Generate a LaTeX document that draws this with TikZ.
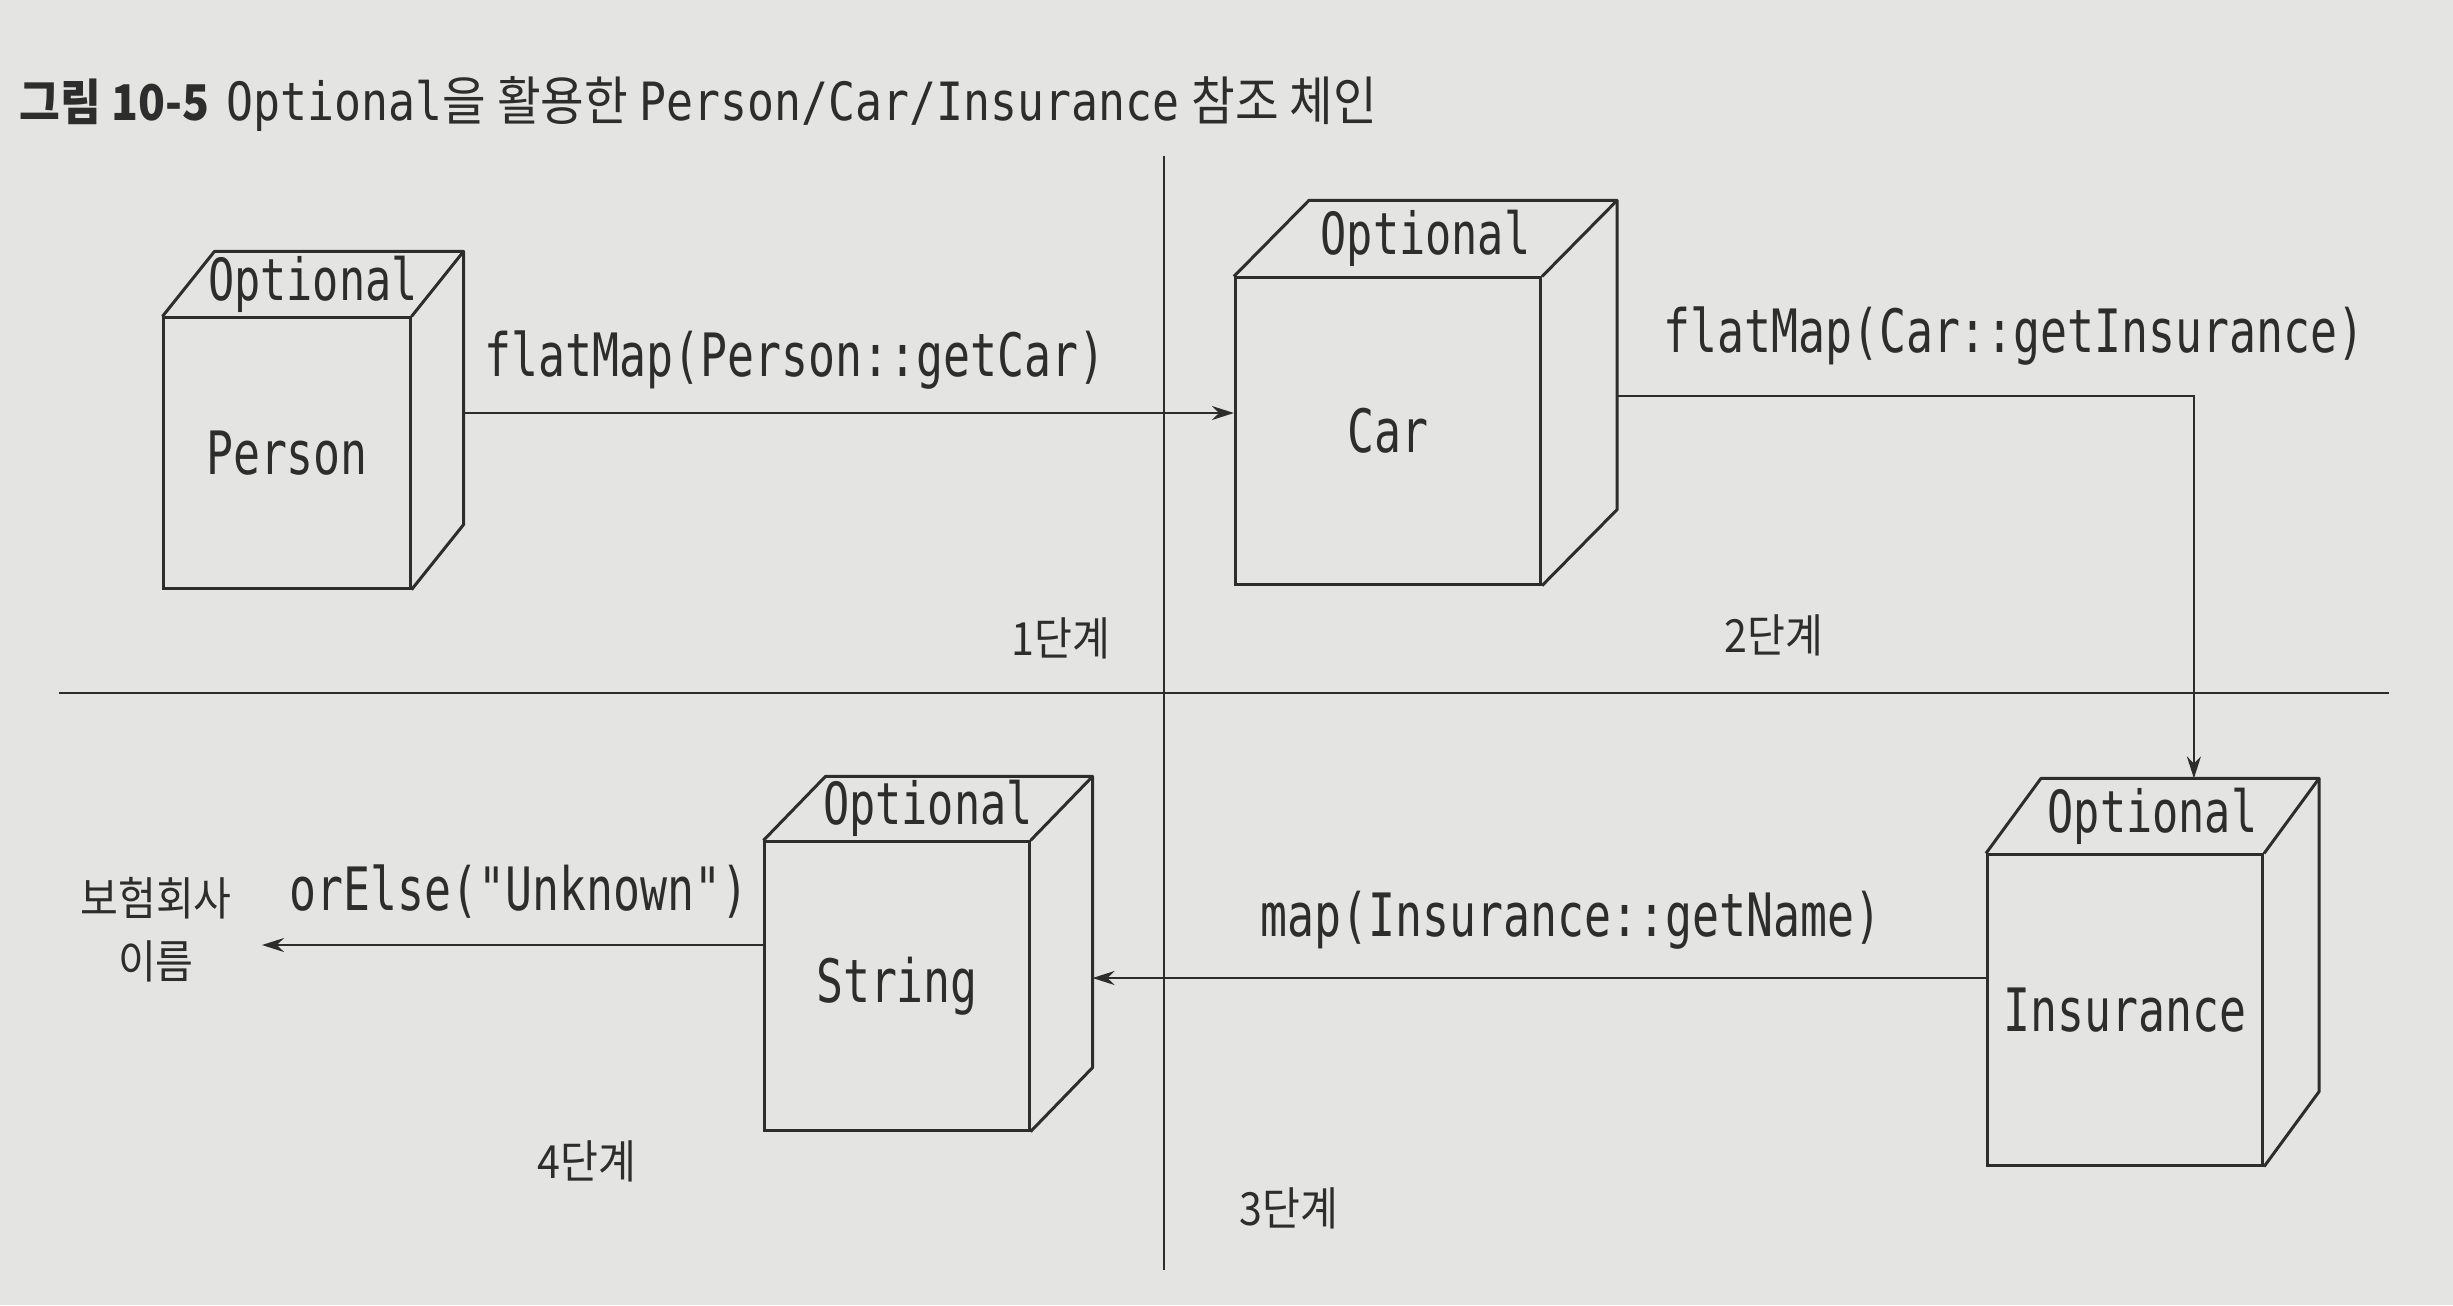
\documentclass[tikz,border=0pt]{standalone}
\usepackage{fontspec}
\usetikzlibrary{arrows.meta,calc}
\newfontfamily\codefont[FakeStretch=0.75]{DejaVu Sans Mono}
\newfontfamily\titlecode[FakeStretch=0.85]{DejaVu Sans Mono}
\newfontfamily\krfont[FakeStretch=0.9]{Noto Sans CJK KR}
\definecolor{paper}{RGB}{228,228,226}
\definecolor{ink}{RGB}{45,45,45}
\newcommand\drawcube[3]{%
  \coordinate (#1-btl) at ($(#1.north west)+(#2,#3)$);
  \coordinate (#1-btr) at ($(#1.north east)+(#2,#3)$);
  \coordinate (#1-bbr) at ($(#1.south east)+(#2,#3)$);
  \draw[edge] (#1.north west) -- (#1-btl) -- (#1-btr) -- (#1.north east);
  \draw[edge] (#1-btr) -- (#1-bbr) -- (#1.south east);
  \node[optlabel] (#1-opt) at ($(#1.north)+(#2/2,#3/2)$) {Optional};
}
\begin{document}
\begin{tikzpicture}[x=0.01cm,y=-0.01cm,
  edge/.style={draw=ink, line width=0.85pt, line join=round},
  cubeface/.style={draw=ink, line width=0.85pt, inner sep=0pt, text=ink,
    font=\codefont\fontsize{17}{20}\selectfont},
  optlabel/.style={text=ink, inner sep=0pt, font=\codefont\fontsize{16.5}{20}\selectfont},
  codelabel/.style={text=ink, inner sep=0pt, font=\codefont\fontsize{17}{20}\selectfont},
  steplabel/.style={text=ink, inner sep=0pt, font=\krfont\fontsize{13}{16}\selectfont},
  divider/.style={draw=ink, line width=0.7pt},
  conn/.style={draw=ink, line width=0.6pt, -{Stealth[length=0.22cm,width=0.14cm]}}]
\fill[paper] (0,0) rectangle (2453,1305);
\useasboundingbox (0,0) rectangle (2453,1305);

% title
\node[anchor=west, text=ink, inner sep=0pt] (title) at (19,104)
  {{\krfont\bfseries\fontsize{14}{17}\selectfont 그림 10-5}\,
   {\titlecode\fontsize{15}{18}\selectfont Optional}{\krfont\fontsize{15}{18}\selectfont 을 활용한}
   {\titlecode\fontsize{15}{18}\selectfont Person/Car/Insurance}
   {\krfont\fontsize{15}{18}\selectfont 참조 체인}};

% dividers
\coordinate (vtop) at (1164,156);
\coordinate (vbot) at (1164,1270);
\coordinate (hleft) at (59,693);
\coordinate (hright) at (2389,693);
\draw[divider] (vtop) -- (vbot);
\draw[divider] (hleft) -- (hright);

% cubes
\node[cubeface, minimum width=2.46cm, minimum height=2.70cm] (person) at (287,453) {Person};
\drawcube{person}{52}{-65}
\node[cubeface, minimum width=3.05cm, minimum height=3.06cm] (car) at (1388,431) {Car};
\drawcube{car}{75}{-76}
\node[cubeface, minimum width=2.75cm, minimum height=3.10cm] (insurance) at (2125,1010) {Insurance};
\drawcube{insurance}{55}{-75}
\node[cubeface, minimum width=2.64cm, minimum height=2.88cm] (string) at (897,986) {String};
\drawcube{string}{62}{-64}

% connectors
\coordinate (a1) at (462,413);
\draw[conn] (a1) -- (a1 -| car.west);
\coordinate (a2) at (car-bbr |- 0,396);
\coordinate (a2end) at ($(insurance-btl)!0.55!(insurance-btr)$);
\draw[conn] (a2) -| (a2end);
\coordinate (a3) at (string-bbr |- 0,978);
\draw[conn] (insurance.west |- a3) -- (a3);
\coordinate (a4) at (262,945);
\draw[conn] (string.west |- a4) -- (a4);

% labels
\node[codelabel] (l1) at (795,360) {flatMap(Person::getCar)};
\node[codelabel] (l2) at (2014,336) {flatMap(Car::getInsurance)};
\node[codelabel] (l3) at (1571,920) {map(Insurance::getName)};
\node[codelabel] (l4) at (519,892) {orElse("Unknown")};
\node[steplabel, align=center] (result) at (156,930) {보험회사\\[2pt]이름};
\node[steplabel] (s1) at (1061,638) {1단계};
\node[steplabel] (s2) at (1774,635) {2단계};
\node[steplabel] (s3) at (1289,1208) {3단계};
\node[steplabel] (s4) at (587,1161) {4단계};
\end{tikzpicture}
\end{document}
